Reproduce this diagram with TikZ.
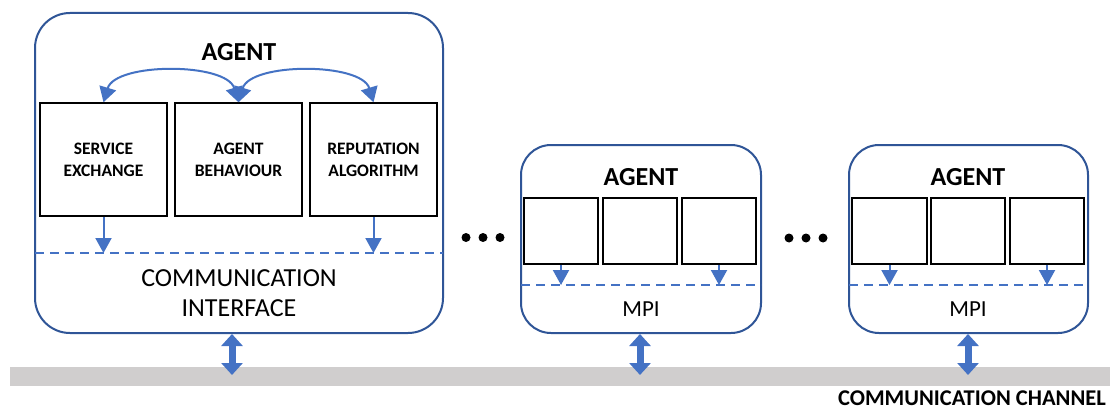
\documentclass[tikz,border=0pt]{standalone}
\usepackage{fontspec}
\setmainfont{Carlito}
\usetikzlibrary{arrows.meta}
\definecolor{agentblue}{HTML}{2F5597}
\definecolor{arrowblue}{HTML}{4472C4}
\definecolor{bandgray}{HTML}{D0CECE}
\tikzset{
  agentbox/.style={draw=agentblue, line width=2pt, fill=white, rounded corners=#1, inner sep=0pt},
  modbox/.style={draw=black, line width=1.5pt, inner sep=0pt, align=center, font=\bfseries\fontsize{17.5}{22}\selectfont},
  titletext/.style={font=\bfseries\fontsize{26}{30}\selectfont, inner sep=0pt},
  ifacetext/.style={font=\fontsize{26}{30}\selectfont, inner sep=0pt, align=center},
  mpitext/.style={font=\fontsize{23}{30}\selectfont, inner sep=0pt},
  dashline/.style={draw=arrowblue, line width=2pt, dash pattern=on 9pt off 6pt},
  downarrow/.style={draw=arrowblue, line width=2pt, -{Triangle[width=16pt,length=15pt]}},
  bidir/.style={draw=arrowblue, line width=2pt, {Triangle[width=17pt,length=15pt]}-{Triangle[width=17pt,length=15pt]}},
  busarrow/.style={draw=arrowblue, line width=7pt, {Triangle[width=21pt,length=12pt]}-{Triangle[width=21pt,length=12pt]}},
  dotmark/.style={circle, fill=black, inner sep=0pt, minimum size=9pt},
}
\begin{document}
\begin{tikzpicture}[x=1pt,y=-1pt]
\useasboundingbox (0,0) rectangle (1110,409);
% channel band
\node[fill=bandgray, inner sep=0pt, minimum width=1100pt, minimum height=19pt, anchor=north west] (band) at (10,367) {};
\node[font=\bfseries\fontsize{22.5}{24}\selectfont, inner sep=0pt, anchor=east] (chan) at (1106,398) {COMMUNICATION CHANNEL};

% ---------- big agent ----------
\node[agentbox=35pt, minimum width=408pt, minimum height=320pt] (A1) at (239,173) {};
\node[titletext] (t1) at (239,52) {AGENT};
\node[modbox, minimum width=127pt, minimum height=113pt] (b11) at (103.5,159.5) {SERVICE\\EXCHANGE};
\node[modbox, minimum width=127pt, minimum height=113pt] (b12) at (238.5,159.5) {AGENT\\BEHAVIOUR};
\node[modbox, minimum width=127pt, minimum height=113pt] (b13) at (373.5,159.5) {REPUTATION\\ALGORITHM};
\coordinate (d1l) at (35,253);
\coordinate (d1r) at (443,253);
\draw[dashline] (d1l) -- (d1r);
\draw[downarrow] (b11.south) -- (b11.south |- d1l);
\draw[downarrow] (b13.south) -- (b13.south |- d1l);
\draw[bidir] (b11.north) .. controls +(12,-40) and +(-12,-40) .. (b12.north);
\draw[bidir] (b12.north) .. controls +(12,-40) and +(-12,-40) .. (b13.north);
\node[ifacetext] (i1) at (239,293) {COMMUNICATION\\INTERFACE};

% ---------- agent 2 ----------
\node[agentbox=30pt, minimum width=240pt, minimum height=188pt] (A2) at (641,239) {};
\node[titletext] (t2) at (641,177) {AGENT};
\node[modbox, minimum width=74pt, minimum height=66pt] (b21) at (561,231) {};
\node[modbox, minimum width=74pt, minimum height=66pt] (b22) at (640,231) {};
\node[modbox, minimum width=74pt, minimum height=66pt] (b23) at (719,231) {};
\coordinate (d2l) at (521,285);
\coordinate (d2r) at (761,285);
\draw[dashline] (d2l) -- (d2r);
\draw[downarrow] (b21.south) -- (b21.south |- d2l);
\draw[downarrow] (b23.south) -- (b23.south |- d2l);
\node[mpitext] (i2) at (641,309) {MPI};

% ---------- agent 3 ----------
\node[agentbox=30pt, minimum width=239pt, minimum height=188pt] (A3) at (968.5,239) {};
\node[titletext] (t3) at (968,177) {AGENT};
\node[modbox, minimum width=75pt, minimum height=66pt] (b31) at (889.5,231) {};
\node[modbox, minimum width=74pt, minimum height=66pt] (b32) at (968,231) {};
\node[modbox, minimum width=74pt, minimum height=66pt] (b33) at (1047,231) {};
\coordinate (d3l) at (849,285);
\coordinate (d3r) at (1088,285);
\draw[dashline] (d3l) -- (d3r);
\draw[downarrow] (b31.south) -- (b31.south |- d3l);
\draw[downarrow] (b33.south) -- (b33.south |- d3l);
\node[mpitext] (i3) at (968,309) {MPI};

% ---------- dots ----------
\node[dotmark] (p1) at (466,237.5) {};
\node[dotmark] (p2) at (483,237.5) {};
\node[dotmark] (p3) at (500,237.5) {};
\node[dotmark] (q1) at (789,238) {};
\node[dotmark] (q2) at (806,238) {};
\node[dotmark] (q3) at (823,238) {};

% ---------- bus arrows ----------
\coordinate (c1) at (232,375);
\coordinate (c2) at (640,375);
\coordinate (c3) at (968,375);
\draw[busarrow] (A1.south -| c1) -- (c1);
\draw[busarrow] (A2.south -| c2) -- (c2);
\draw[busarrow] (A3.south -| c3) -- (c3);
\end{tikzpicture}
\end{document}
